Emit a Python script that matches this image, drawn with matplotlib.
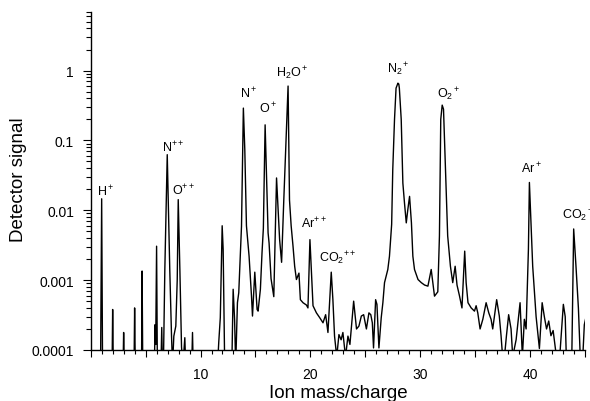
import matplotlib
matplotlib.use('Agg')
import matplotlib.pyplot as plt
from matplotlib.ticker import MultipleLocator, LogLocator, FuncFormatter, NullFormatter

plt.rcParams['font.family'] = ['Liberation Sans', 'DejaVu Sans']
plt.rcParams['mathtext.fontset'] = 'custom'
plt.rcParams['mathtext.rm'] = 'Liberation Sans'
plt.rcParams['mathtext.it'] = 'Liberation Sans:italic'
plt.rcParams['mathtext.bf'] = 'Liberation Sans:bold'
plt.rcParams['mathtext.default'] = 'regular'

# mass spectrum, residual gas (m/q vs detector signal); 6e-5 = below the floor
mass = [0.9, 1.0, 1.08,
        1.95, 2.0, 2.06,
        2.95, 3.0, 3.06,
        3.95, 4.0, 4.06,
        4.63, 4.68, 4.74,
        5.8, 5.86, 5.92, 6.0, 6.07,
        6.4, 6.47, 6.53,
        6.62, 6.75, 6.97, 7.2, 7.36, 7.45, 7.57, 7.75, 7.88, 7.97, 8.12, 8.27, 8.4, 8.57, 8.65,
        9.2, 9.27, 9.33,
        11.55, 11.66, 11.8, 11.97, 12.06, 12.2,
        12.85, 12.97, 13.1, 13.2, 13.36, 13.48, 13.73, 13.9, 14.03, 14.18, 14.42, 14.64, 14.73,
        14.94, 15.15, 15.24, 15.45, 15.6, 15.72, 15.88, 16.15, 16.24, 16.42, 16.67, 16.92,
        17.2, 17.38, 17.58, 17.97, 18.1, 18.25, 18.42, 18.57, 18.73, 18.96, 19.09, 19.33,
        19.64, 19.78, 19.96, 20.1, 20.24, 20.55, 20.85, 21.15, 21.39, 21.6, 21.9, 22.05,
        22.2, 22.4, 22.6, 22.8, 22.96, 23.2, 23.42, 23.6, 23.94, 24.2, 24.42, 24.64, 24.85,
        25.1, 25.33, 25.5, 25.64, 25.75, 25.94, 26.06, 26.24, 26.45, 26.6, 26.75, 26.9,
        27.05, 27.2, 27.4, 27.5, 27.66, 27.8, 27.97, 28.05, 28.1, 28.27, 28.42, 28.57,
        28.73, 28.87, 29.03, 29.2, 29.33, 29.48, 29.8, 30.1, 30.4, 30.7, 31.0, 31.3, 31.6,
        31.75, 31.87, 32.0, 32.12, 32.3, 32.5, 32.75, 32.96, 33.18, 33.35, 33.57, 33.8,
        34.05, 34.18, 34.35, 34.64, 34.94, 35.09, 35.24, 35.45, 35.7, 36.0, 36.24, 36.45,
        36.6, 36.96, 37.2, 37.36, 37.5, 37.7, 37.85, 38.05, 38.27, 38.42, 38.73, 39.09,
        39.3, 39.48, 39.64, 39.85, 39.94, 40.24, 40.55, 40.85, 41.1, 41.3, 41.5, 41.7,
        41.9, 42.1, 42.4, 42.7, 43.03, 43.2, 43.3, 43.8, 43.97, 44.18, 44.4, 44.57, 44.8,
        44.94, 45.1]
signal = [6e-5, 1.46e-2, 6e-5,
          6e-5, 3.8e-4, 6e-5,
          6e-5, 1.78e-4, 6e-5,
          6e-5, 4.0e-4, 6e-5,
          6e-5, 1.35e-3, 6e-5,
          6e-5, 2.3e-4, 1.2e-4, 3.06e-3, 6e-5,
          6e-5, 2.1e-4, 6e-5,
          6e-5, 1.41e-3, 6.25e-2, 1.41e-3, 1.58e-4, 6e-5, 1.58e-4, 2.2e-4, 1.02e-3, 1.42e-2, 1.41e-3, 1.1e-4, 6e-5, 1.5e-4, 6e-5,
          6e-5, 1.78e-4, 6e-5,
          6e-5, 1.3e-4, 2.9e-4, 6.0e-3, 2.75e-3, 6e-5,
          6e-5, 7.4e-4, 2.75e-4, 6e-5, 4.75e-4, 6.6e-4, 5.9e-3, 0.29, 7.4e-2, 6.0e-3, 2.2e-3, 5.9e-4, 3.06e-4,
          1.3e-3, 3.8e-4, 3.6e-4, 7.4e-4, 2.5e-3, 5.5e-3, 0.167, 4.75e-3, 3.4e-3, 1.05e-3, 5.8e-4, 2.9e-2,
          3.8e-3, 1.8e-3, 1.4e-2, 0.6, 1.4e-2, 6.0e-3, 3.06e-3, 1.58e-3, 1.02e-3, 1.26e-3, 5.25e-4, 4.75e-4,
          4.4e-4, 4.0e-4, 3.8e-3, 1.26e-3, 4.3e-4, 3.4e-4, 2.9e-4, 2.45e-4, 3.2e-4, 1.78e-4, 1.3e-3, 5.25e-4,
          1.58e-4, 8e-5, 1.66e-4, 1.4e-4, 1.78e-4, 8e-5, 1.58e-4, 1.2e-4, 5.0e-4, 2.0e-4, 2.2e-4, 3.06e-4, 3.2e-4,
          2.0e-4, 3.4e-4, 3.2e-4, 2.45e-4, 1.07e-4, 5.25e-4, 4.5e-4, 1.07e-4, 2.9e-4, 4.75e-4, 9.2e-4, 1.14e-3,
          1.42e-3, 2.2e-3, 6.3e-3, 3.8e-2, 0.2, 0.56, 0.66, 0.64, 0.56, 0.2, 2.45e-2, 1.26e-2,
          6.6e-3, 1.02e-2, 1.58e-2, 6.6e-3, 2.2e-3, 1.42e-3, 1.02e-3, 9.2e-4, 8.5e-4, 8.2e-4, 1.42e-3, 5.9e-4, 6.8e-4,
          4.3e-3, 0.2, 0.32, 0.28, 3.8e-2, 4.3e-3, 1.58e-3, 9.2e-4, 1.58e-3, 8.5e-4, 6.0e-4, 4.0e-4,
          2.6e-3, 9.2e-4, 4.75e-4, 4.0e-4, 3.6e-4, 4.3e-4, 3.4e-4, 2.0e-4, 2.75e-4, 4.75e-4, 3.4e-4, 2.75e-4,
          2.0e-4, 5.25e-4, 3.06e-4, 1.6e-4, 8e-5, 9e-5, 1.6e-4, 3.2e-4, 2.0e-4, 8e-5, 1.4e-4, 4.75e-4,
          8e-5, 2.75e-4, 2.0e-4, 2.75e-3, 2.5e-2, 1.58e-3, 3.0e-4, 1.05e-4, 4.75e-4, 3.0e-4, 2.0e-4, 2.6e-4,
          1.6e-4, 1.9e-4, 8e-5, 8e-5, 4.5e-4, 3.0e-4, 8e-5, 8e-5, 5.4e-3, 1.58e-3, 4.0e-4, 8e-5, 8e-5,
          2.3e-4, 3.0e-4]

# peak labels and where they sit (mass, signal of the text baseline)
peak_names = [r'H$^+$', r'N$^{++}$', r'O$^{++}$', r'N$^+$', r'O$^+$', r'H$_2$O$^+$',
              r'Ar$^{++}$', r'CO$_2$$^{++}$', r'N$_2$$^+$', r'O$_2$$^+$', r'Ar$^+$', r'CO$_2$$^+$']
name_pos = [(0.57, 0.0162), (6.48, 0.069), (7.39, 0.0168), (13.57, 0.42), (15.3, 0.249),
            (16.85, 0.84), (19.12, 0.0057), (20.75, 0.00185), (26.94, 0.955), (31.57, 0.42),
            (39.21, 0.0346), (42.95, 0.0076)]

fig = plt.figure(figsize=(5.9, 4.02), dpi=100)
ax = fig.add_axes([0.1537, 0.1269, 0.8378, 0.8420])

ax.plot(mass, signal, color='black', lw=1.0)
ax.set_yscale('log')
ax.set_xlim(0, 45)
ax.set_ylim(1e-4, 7)

for name, (m, v) in zip(peak_names, name_pos):
    ax.text(m, v, name, fontsize=9, ha='left', va='baseline', clip_on=False)

for s in ['top', 'right']:
    ax.spines[s].set_visible(False)
for s in ['left', 'bottom']:
    ax.spines[s].set_linewidth(1.0)

ax.xaxis.set_major_locator(MultipleLocator(5))
ax.xaxis.set_minor_locator(MultipleLocator(1))
ax.xaxis.set_major_formatter(FuncFormatter(lambda v, p: '%d' % v if v > 0 and v % 10 == 0 else ''))
ax.yaxis.set_major_locator(LogLocator(base=10))
ax.yaxis.set_minor_locator(LogLocator(base=10, subs=range(2, 10)))
ax.yaxis.set_major_formatter(FuncFormatter(lambda v, p: '%g' % v))
ax.yaxis.set_minor_formatter(NullFormatter())

ax.tick_params(axis='both', which='both', direction='out', width=0.8, labelsize=10)
ax.tick_params(axis='y', which='major', length=6, pad=6)
ax.tick_params(axis='y', which='minor', length=3.5)
ax.tick_params(axis='x', which='major', length=5, pad=7)
ax.tick_params(axis='x', which='minor', length=3)

fig.text(19 / 590, 1 - 180 / 402, 'Detector signal', rotation=90, fontsize=13.5,
         ha='center', va='center')
fig.text(338 / 590, 4 / 402, 'Ion mass/charge', fontsize=13.5, ha='center', va='baseline')

fig.savefig('out.png', dpi=100)
